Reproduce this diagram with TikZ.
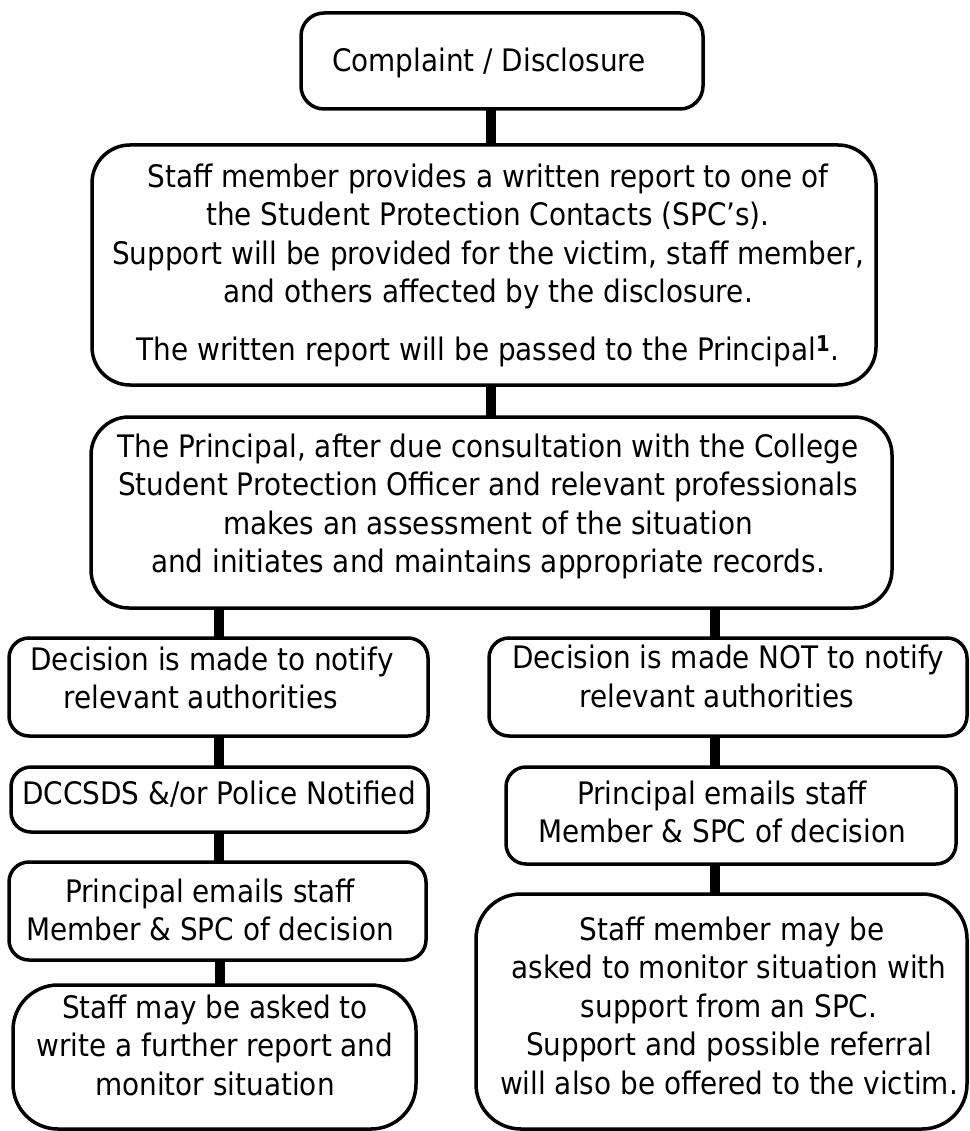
\documentclass[tikz,border=0pt]{standalone}
\usepackage{fontspec}
\setmainfont{DejaVu Sans}[FakeStretch=0.9]
\begin{document}
\begin{tikzpicture}[x=1pt,y=-1pt,
  box/.style={draw=black,line width=3.5pt,fill=white,inner sep=0pt,outer sep=0pt},
  txt/.style={inner sep=0pt,outer sep=0pt,align=center,anchor=north,
    font=\fontsize{31pt}{38.5pt}\selectfont},
  conn/.style={line width=10.5pt,black,line cap=butt}]
\useasboundingbox (0,0) rectangle (969,1131);
\fill[white] (0,0) rectangle (969,1131);
% x positions of connectors
\coordinate (cxm) at (491,0);
\coordinate (cxl) at (219,0);
\coordinate (cxl2) at (220,0);
\coordinate (cxr) at (715,0);
% boxes
\node[box,rounded corners=23pt,minimum width=402pt,minimum height=96pt] (b1) at (502,61) {};
\node[box,rounded corners=38pt,minimum width=784pt,minimum height=240pt] (b2) at (484,265) {};
\node[box,rounded corners=38pt,minimum width=801pt,minimum height=191pt] (b3) at (491.5,512.5) {};
\node[box,rounded corners=20pt,minimum width=419pt,minimum height=98pt] (bL1) at (218.5,687) {};
\node[box,rounded corners=20pt,minimum width=417pt,minimum height=65pt] (bL2) at (219.5,799.5) {};
\node[box,rounded corners=20pt,minimum width=417pt,minimum height=98pt] (bL3) at (217.5,911) {};
\node[box,rounded corners=45pt,minimum width=403pt,minimum height=144pt] (bL4) at (214.5,1057) {};
\node[box,rounded corners=20pt,minimum width=478pt,minimum height=98pt] (bR1) at (728,687) {};
\node[box,rounded corners=20pt,minimum width=450pt,minimum height=97pt] (bR2) at (731,815.5) {};
\node[box,rounded corners=45pt,minimum width=491pt,minimum height=235pt] (bR4) at (721.5,1011.5) {};
% connectors
\draw[conn] (cxm |- b1.south) -- (cxm |- b2.north);
\draw[conn] (cxm |- b2.south) -- (cxm |- b3.north);
\draw[conn] (cxl |- b3.south) -- (cxl |- bL1.north);
\draw[conn] (cxr |- b3.south) -- (cxr |- bR1.north);
\draw[conn] (cxl |- bL1.south) -- (cxl |- bL2.north);
\draw[conn] (cxl |- bL2.south) -- (cxl |- bL3.north);
\draw[conn] (cxl2 |- bL3.south) -- (cxl2 |- bL4.north);
\draw[conn] (cxr |- bR1.south) -- (cxr |- bR2.north);
\draw[conn] (cxr |- bR2.south) -- (cxr |- bR4.north);
% texts
\node[txt] (t1) at (489,47.5) {Complaint / Disclosure};
\node[txt] (t2) at (488,163.5) {Staff member provides a written report to one of\\
the Student Protection Contacts (SPC’s).\\
Support will be provided for the victim, staff member,\\
and others affected by the disclosure.\\[19pt]
The written report will be passed to the Principal\textsuperscript{\textbf{1}}.};
\node[txt] (t3) at (488,433.5) {The Principal, after due consultation with the College\\
Student Protection Officer and relevant professionals\\
makes an assessment of the situation\\
and initiates and maintains appropriate records.};
\node[txt] (tL1) at (212,646.5) {Decision is made to notify\\relevant authorities\hspace*{22pt}};
\node[txt] (tL2) at (219,780.5) {DCCSDS \&/or Police Notified};
\node[txt] (tL3) at (210,878.5) {Principal emails staff\\Member \& SPC of decision};
\node[txt] (tL4) at (215,994.5) {Staff may be asked to\\write a further report and\\monitor situation};
\node[txt] (tR1) at (728,645) {Decision is made NOT to notify\\relevant authorities\hspace*{22pt}};
\node[txt] (tR2) at (722,780.5) {Principal emails staff\\Member \& SPC of decision};
\node[txt] (tR4) at (729,916.5) {\hspace*{6pt}Staff member may be\\
asked to monitor situation with\hspace*{12pt}\\
support from an SPC.\hspace*{50pt}\\
Support and possible referral\hspace*{22pt}\\
will also be offered to the victim.};
\end{tikzpicture}
\end{document}
